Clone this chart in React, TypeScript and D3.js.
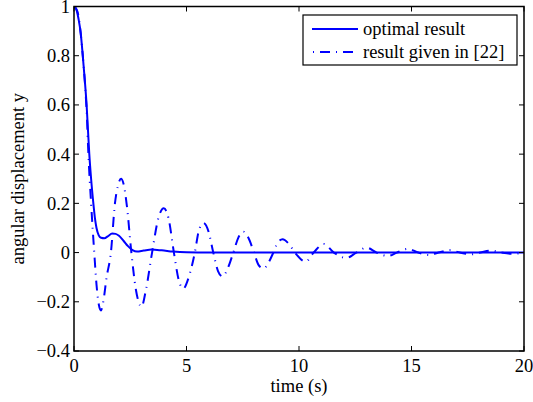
import React from 'react';
import * as d3 from 'd3';

const width = 533;
const height = 402;
const margin = { left: 74, right: 9, top: 6.5, bottom: 51 };

// time (s) and y values
const optimalT = [0, 0.1, 0.2, 0.3, 0.39, 0.48, 0.56, 0.62, 0.68, 0.76, 0.86, 0.93, 1.0, 1.1, 1.2, 1.35, 1.5, 1.7, 1.85, 2.0, 2.2, 2.4, 2.6, 2.8, 3.1, 3.45, 3.9, 4.4, 5.0, 6.0, 20];
const optimalY = [1, 0.99, 0.95, 0.89, 0.8, 0.7, 0.6, 0.5, 0.4, 0.3, 0.2, 0.14, 0.1, 0.07, 0.06, 0.058, 0.066, 0.077, 0.076, 0.068, 0.048, 0.026, 0.01, 0.004, 0.008, 0.012, 0.009, 0.004, 0.001, 0, 0];

const givenT = [0, 0.15, 0.3, 0.4, 0.5, 0.57, 0.64, 0.76, 0.9, 1.0, 1.1, 1.2, 1.3, 1.45, 1.64, 1.82, 1.95, 2.09, 2.2, 2.35, 2.55, 2.75, 3.0, 3.2, 3.47, 3.75, 3.99, 4.2, 4.44, 4.65, 4.85, 5.1, 5.37, 5.55, 5.75, 5.98, 6.19, 6.4, 6.6, 6.85, 7.08, 7.3, 7.53, 7.75, 8.0, 8.2, 8.42, 8.65, 8.86, 9.05, 9.27, 9.55, 9.82, 10.3, 10.65, 11.1, 11.55, 12.1, 12.55, 13.0, 13.45, 13.95, 14.35, 14.85, 15.3, 15.8, 16.2, 16.7, 17.15, 17.65, 18.05, 18.55, 19.0, 19.5, 20];
const givenY = [1, 0.98, 0.89, 0.79, 0.67, 0.56, 0.4, 0.2, 0, -0.13, -0.21, -0.235, -0.2, -0.1, 0, 0.2, 0.27, 0.3, 0.28, 0.19, 0, -0.15, -0.22, -0.15, 0, 0.14, 0.18, 0.14, 0, -0.11, -0.147, -0.1, 0, 0.09, 0.12, 0.085, 0, -0.075, -0.097, -0.06, 0, 0.06, 0.085, 0.06, 0, -0.05, -0.065, -0.04, 0, 0.04, 0.054, 0.035, 0, -0.037, 0, 0.035, 0, -0.022, 0, 0.02, 0, -0.014, 0, 0.015, 0, -0.01, 0, 0.01, 0, -0.007, 0, 0.008, 0, -0.005, 0];

const xTicks = [0, 5, 10, 15, 20];
const xTickLabels = ['0', '5', '10', '15', '20'];
const yTicks = [-0.4, -0.2, 0, 0.2, 0.4, 0.6, 0.8, 1];
const yTickLabels = ['\u22120.4', '\u22120.2', '0', '0.2', '0.4', '0.6', '0.8', '1'];

const legendLabels = ['optimal result', 'result given in [22]'];

const font = 'Liberation Serif';
const fontSize = 18.5;
const blue = '#0000ff';
const dash = '10,6,1,6';

const x = d3.scaleLinear().domain([0, 20]).range([margin.left, width - margin.right]);
const y = d3.scaleLinear().domain([-0.4, 1]).range([height - margin.bottom, margin.top]);

const line = d3.line<[number, number]>()
  .x(d => x(d[0]))
  .y(d => y(d[1]))
  .curve(d3.curveMonotoneX);

const optimalPts = optimalT.map((t, i) => [t, optimalY[i]] as [number, number]);
const givenPts = givenT.map((t, i) => [t, givenY[i]] as [number, number]);

const txt = { fontFamily: font, fontSize: fontSize };

const App = () => {
  const x0 = x(0), x1 = x(20), y0 = y(-0.4), y1 = y(1);
  const tickLen = 5;
  return (
    <svg width={width} height={height} style={{ position: 'absolute', left: 0, top: 0, background: '#fff' }}>
      <rect width={width} height={height} fill="#fff" />
      <defs>
        <clipPath id="plot">
          <rect x={x0} y={y1} width={x1 - x0} height={y0 - y1} />
        </clipPath>
      </defs>

      <g clipPath="url(#plot)">
        <path d={line(optimalPts) || ''} fill="none" stroke={blue} strokeWidth={2} />
        <path d={line(givenPts) || ''} fill="none" stroke={blue} strokeWidth={2} strokeDasharray={dash} />
      </g>

      {/* ticks on all four sides, pointing in */}
      {xTicks.map((t, i) => (
        <g key={'x' + t}>
          <line x1={x(t)} x2={x(t)} y1={y0} y2={y0 - tickLen} stroke="#000" />
          <line x1={x(t)} x2={x(t)} y1={y1} y2={y1 + tickLen} stroke="#000" />
          <text style={txt} x={x(t)} y={372} textAnchor="middle">{xTickLabels[i]}</text>
        </g>
      ))}
      {yTicks.map((t, i) => (
        <g key={'y' + t}>
          <line x1={x0} x2={x0 + tickLen} y1={y(t)} y2={y(t)} stroke="#000" />
          <line x1={x1} x2={x1 - tickLen} y1={y(t)} y2={y(t)} stroke="#000" />
          <text style={txt} x={x0 - 4} y={y(t)} dy="0.35em" textAnchor="end">{yTickLabels[i]}</text>
        </g>
      ))}

      <rect x={x0} y={y1} width={x1 - x0} height={y0 - y1} fill="none" stroke="#000" strokeWidth={1.5} />

      <text style={txt} x={(x0 + x1) / 2} y={392} textAnchor="middle">time (s)</text>
      <text style={txt} transform={`translate(24,${(y0 + y1) / 2}) rotate(-90)`} textAnchor="middle">angular displacement y</text>

      {/* legend */}
      <g>
        <rect x={303} y={15} width={214} height={50} fill="#fff" stroke="#000" strokeWidth={1.2} />
        <line x1={312} x2={358} y1={29} y2={29} stroke={blue} strokeWidth={2} />
        <text style={txt} x={363} y={29} dy="0.32em">{legendLabels[0]}</text>
        <line x1={312} x2={358} y1={52} y2={52} stroke={blue} strokeWidth={2} strokeDasharray={dash} strokeDashoffset={15} />
        <text style={txt} x={363} y={52} dy="0.32em">{legendLabels[1]}</text>
      </g>
    </svg>
  );
};

export default App;
